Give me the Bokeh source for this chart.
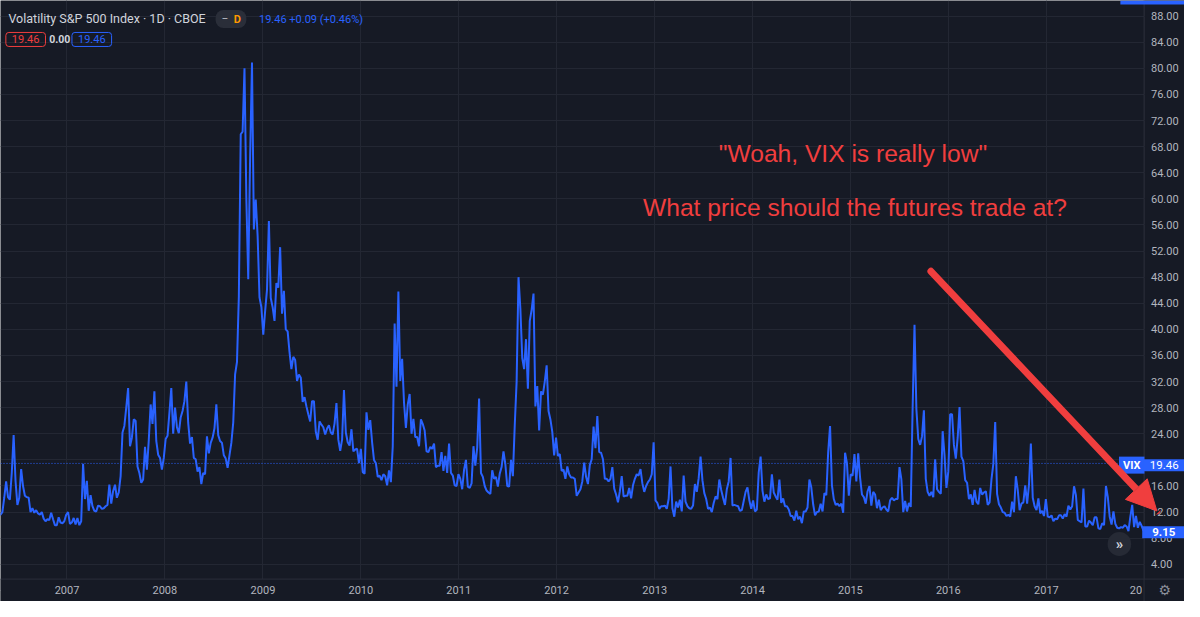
import pandas as pd
from bokeh.plotting import figure
from bokeh.models import (Range1d, FixedTicker, Grid, Label, Span, Arrow, NormalHead,
                          ColumnDataSource, BoxAnnotation)
from bokeh.core.properties import value
from bokeh.embed import file_html
from bokeh.resources import INLINE

# ---------------- data (weekly VIX closes) ----------------
vix_2006 = [11.2, 11.5, 11.6, 11.6, 12.0, 14.2, 16.7, 14.3, 13.9, 18.0, 23.8, 16.8, 13.1, 14.2, 18.6, 16.0,
            14.5, 14.3, 14.2, 12.0, 12.6, 11.9, 12.3, 11.8, 11.6, 12.0, 11.0, 10.6, 10.9, 10.8, 11.9, 10.9,
            10.0, 10.0, 11.2, 10.4, 10.3, 10.6, 11.6]
vix_2007 = [12.0, 10.2, 10.4, 11.1, 10.1, 11.1, 10.0, 10.6, 19.4, 14.0, 16.8, 12.2, 14.6, 12.9, 12.2, 12.1,
            13.0, 12.9, 12.5, 12.6, 12.9, 13.1, 16.2, 13.3, 15.2, 16.2, 14.2, 15.0, 17.5, 24.2, 25.2, 28.0,
            31.0, 22.1, 23.4, 26.2, 26.0, 19.0, 18.0, 16.5, 17.0, 22.0, 18.5, 23.0, 28.5, 25.5, 30.5, 22.9,
            20.8, 20.3, 18.5, 20.3]
vix_2008 = [23.2, 23.7, 27.2, 31.0, 24.0, 28.0, 25.0, 24.1, 26.5, 27.5, 29.0, 32.0, 25.7, 22.5, 23.5, 20.3,
            20.1, 18.2, 18.9, 16.3, 18.0, 17.8, 23.6, 21.0, 22.6, 23.4, 24.8, 28.5, 23.8, 22.9, 22.6, 20.7,
            20.2, 18.8, 20.7, 22.6, 25.7, 33.1, 35.0, 45.1, 69.9, 70.3, 80.0, 59.9, 47.7, 66.3, 80.9, 55.3,
            59.9, 54.3, 44.9, 43.4]
vix_2009 = [39.2, 42.8, 46.1, 56.6, 44.8, 43.4, 41.3, 47.1, 46.4, 52.6, 42.4, 45.9, 40.0, 39.7, 36.5, 33.9,
            35.8, 35.3, 32.1, 33.1, 32.6, 28.9, 29.6, 28.2, 27.0, 25.9, 29.0, 29.0, 24.3, 23.1, 25.9, 25.4,
            25.0, 23.9, 24.8, 25.3, 24.2, 23.9, 25.6, 28.7, 23.1, 21.4, 23.1, 30.7, 24.2, 22.7, 22.2, 24.7,
            21.3, 21.6, 21.7, 19.5]
vix_2010 = [21.7, 18.1, 17.9, 27.3, 24.6, 26.1, 22.7, 20.0, 19.5, 17.4, 17.6, 16.9, 17.8, 17.5, 16.1, 18.4,
            16.6, 22.1, 40.9, 31.2, 45.8, 32.1, 35.5, 28.8, 24.9, 28.5, 30.1, 24.0, 26.3, 23.5, 23.5, 22.1,
            26.2, 25.5, 24.5, 21.3, 21.2, 22.0, 21.7, 22.5, 18.9, 19.1, 19.1, 21.2, 18.3, 20.6, 18.0, 22.5,
            18.0, 17.6, 16.1, 16.0, 17.8]
vix_2011 = [17.1, 15.5, 18.5, 20.0, 15.9, 15.7, 16.4, 22.1, 19.1, 21.9, 29.4, 18.0, 17.4, 16.0, 15.3, 15.0,
            14.8, 18.4, 17.1, 17.4, 15.9, 17.9, 18.9, 21.3, 19.3, 16.0, 15.9, 20.0, 17.5, 25.3, 32.0, 48.0,
            43.1, 35.6, 33.9, 38.5, 30.9, 41.3, 43.0, 45.5, 28.2, 31.3, 24.5, 30.5, 30.0, 32.0, 34.5, 27.5,
            26.2, 24.3, 20.7, 23.4]
vix_2012 = [20.6, 20.9, 18.3, 18.5, 17.1, 19.0, 17.8, 17.3, 17.3, 17.1, 14.5, 15.0, 15.5, 16.7, 19.6, 17.4,
            16.3, 19.2, 20.1, 25.1, 21.8, 26.7, 21.2, 21.1, 20.1, 17.1, 17.1, 16.7, 17.1, 18.9, 15.6, 14.7,
            13.5, 15.2, 17.5, 14.4, 14.5, 14.5, 15.7, 14.1, 16.1, 17.1, 17.8, 17.6, 18.6, 16.4, 15.1, 16.0,
            16.6, 17.0, 17.8, 22.7]
vix_2013 = [13.8, 13.4, 12.5, 12.9, 12.9, 13.0, 12.5, 14.0, 19.0, 12.6, 11.3, 13.6, 12.7, 13.9, 12.1, 17.6,
            13.6, 12.9, 12.6, 12.5, 13.0, 16.3, 15.1, 17.2, 20.5, 16.9, 14.9, 14.0, 12.5, 12.7, 12.0, 13.4,
            14.4, 14.0, 17.0, 15.4, 14.2, 13.1, 15.5, 16.7, 20.3, 13.0, 13.1, 13.0, 12.9, 12.2, 12.3, 13.7,
            15.1, 15.8, 13.8, 12.5]
vix_2014 = [13.8, 12.1, 12.4, 18.1, 20.5, 15.3, 13.6, 14.7, 14.0, 14.1, 17.8, 15.0, 14.4, 13.9, 17.0, 13.4,
            14.1, 12.9, 12.9, 12.4, 11.4, 11.4, 10.7, 12.2, 10.9, 11.3, 10.3, 12.1, 12.1, 12.7, 17.0, 15.8,
            13.2, 11.5, 12.0, 12.1, 13.3, 12.1, 14.9, 14.6, 21.2, 25.2, 16.1, 14.0, 13.1, 13.3, 12.9, 13.3,
            11.9, 21.1, 19.5, 14.5]
vix_2015 = [17.8, 17.6, 20.9, 16.7, 21.0, 17.3, 14.7, 14.3, 13.3, 15.2, 16.0, 13.0, 15.1, 14.7, 12.6, 13.9,
            12.3, 12.7, 12.9, 12.4, 12.1, 13.8, 14.2, 13.8, 14.0, 14.0, 18.9, 17.0, 12.0, 13.7, 12.1, 13.4,
            12.8, 28.0, 40.7, 27.8, 23.2, 22.3, 23.6, 27.6, 17.1, 15.1, 14.5, 15.1, 14.3, 20.1, 15.5, 15.1,
            14.8, 24.4, 20.7, 15.7]
vix_2016 = [18.2, 27.0, 27.0, 22.3, 20.2, 23.4, 28.1, 20.5, 19.8, 16.9, 16.5, 14.0, 14.7, 13.1, 15.4, 13.6,
            13.2, 15.7, 14.7, 15.0, 15.2, 13.1, 13.5, 17.0, 19.4, 25.8, 14.8, 13.2, 12.7, 12.0, 11.9, 11.4,
            11.6, 11.3, 13.6, 12.0, 17.5, 15.4, 12.3, 13.3, 13.5, 16.1, 13.3, 16.2, 22.5, 14.2, 12.9, 12.3,
            14.1, 11.8, 12.2, 11.4, 14.0]
vix_2017 = [11.3, 11.2, 11.5, 10.6, 11.0, 10.9, 11.5, 11.5, 11.0, 11.7, 11.3, 13.0, 12.4, 12.9, 15.96, 14.6,
            10.8, 10.6, 10.4, 15.6, 9.8, 9.8, 10.7, 10.4, 10.0, 11.2, 11.2, 9.5, 9.4, 10.3, 10.0, 16.0,
            14.3, 11.3, 10.1, 12.1, 10.2, 9.6, 9.5, 9.7, 9.6, 10.0, 9.8, 9.1, 11.3, 13.1, 9.7, 11.4,
            9.6, 10.5, 9.9, 9.15]

year_labels = ["2007", "2008", "2009", "2010", "2011", "2012", "2013", "2014", "2015", "2016", "2017"]
price_ticks = [4, 8, 12, 16, 20, 24, 28, 32, 36, 40, 44, 48, 52, 56, 60, 64, 68, 72, 76, 80, 84, 88]
last_price = 19.46
change = 0.09
change_pct = 0.46
last_visible = 9.15

# ---------------- assemble series ----------------
series = [("2006-04-01", vix_2006), ("2007-01-01", vix_2007), ("2008-01-01", vix_2008),
          ("2009-01-01", vix_2009), ("2010-01-01", vix_2010), ("2011-01-01", vix_2011),
          ("2012-01-01", vix_2012), ("2013-01-01", vix_2013), ("2014-01-01", vix_2014),
          ("2015-01-01", vix_2015), ("2016-01-01", vix_2016), ("2017-01-01", vix_2017)]
dates, vals = [], []
for start, arr in series:
    dates.extend(pd.date_range(start, periods=len(arr), freq="W-FRI"))
    vals.extend(arr)
src = ColumnDataSource(dict(date=dates, vix=vals))

year_dates = [pd.Timestamp(f"{y}-01-01") for y in year_labels]
year_src = ColumnDataSource(dict(x=year_dates, label=year_labels))
shown = [t for t in price_ticks if t != 20]          # 20.00 sits under the last-price tag
price_src = ColumnDataSource(dict(y=shown, label=[f"{t:.2f}" for t in shown]))

# ---------------- styling ----------------
BG = "#161a25"
GRID = "#232733"
AXLINE = "#2a2e39"
AXC = "#b2b5be"
BLUE = "#2962ff"
RED = "#f03e3e"
FONT = "Roboto"

# whole canvas is the frame; price scale (x>1159) and time scale (y>594) are painted in it
W, H = 1184, 601
p = figure(width=W, height=H, x_axis_type="datetime",
           x_axis_location=None, y_axis_location=None,
           x_range=Range1d(pd.Timestamp("2006-04-28"), pd.Timestamp("2018-05-31")),
           y_range=Range1d(-1.7, 90.4), output_backend="svg", toolbar_location=None,
           min_border=0, background_fill_color=BG, border_fill_color=BG, outline_line_color=None)
p.extra_x_ranges = {"px": Range1d(0, 1200)}
p.extra_y_ranges = {"py": Range1d(617, 0)}

xt = FixedTicker(ticks=[d.timestamp() * 1000 for d in year_dates])
yt = FixedTicker(ticks=price_ticks)
p.add_layout(Grid(dimension=0, ticker=xt, grid_line_color=GRID))
p.add_layout(Grid(dimension=1, ticker=yt, grid_line_color=GRID))

# scale strips (cover grid lines) and their border lines
p.add_layout(BoxAnnotation(left=1159, right=1200, top=0, bottom=617, x_range_name="px", y_range_name="py",
                           fill_color=BG, fill_alpha=1, line_color=None, level="underlay"))
p.add_layout(BoxAnnotation(left=0, right=1200, top=594, bottom=617, x_range_name="px", y_range_name="py",
                           fill_color=BG, fill_alpha=1, line_color=None, level="underlay"))
p.add_layout(Span(location=1159, dimension="height", x_range_name="px", line_color=AXLINE, line_width=1))
p.add_layout(Span(location=594, dimension="width", y_range_name="py", line_color=AXLINE, line_width=1))

# price line + last price line
p.line("date", "vix", source=src, line_color=BLUE, line_width=2)
p.add_layout(Span(location=last_price, dimension="width", line_color=BLUE,
                  line_dash="1 2", line_width=1))

# scale labels
p.text(x=1166, y="y", text="label", source=price_src, x_range_name="px",
       text_font=value(FONT), text_font_size="11px", text_color=AXC,
       text_baseline="middle", text_align="left")
p.text(x="x", y=605, text="label", source=year_src, y_range_name="py",
       text_font=value(FONT), text_font_size="11px", text_color=AXC,
       text_baseline="middle", text_align="center")


def lab(x, y, text, **kw):
    base = dict(x=x, y=y, text=text, x_range_name="px", y_range_name="py",
                text_font=FONT, text_font_size="12px", text_color=AXC,
                text_baseline="middle", text_align="left")
    base.update(kw)
    p.add_layout(Label(**base))


# header
lab(8, 18, "Volatility S&P 500 Index · 1D · CBOE", text_color="#d1d4dc", text_font_size="12.5px")
lab(218, 19, "−    ", text_color="#b2b5be", text_font_size="12px", background_fill_color="#2a2e39",
    border_radius=8, padding=(6, 2))
lab(240, 19, "D", text_color="#ff9800", text_font_size="11px", text_font_style="bold", text_align="center")
lab(262, 19, f"{last_price:.2f}  +{change:.2f}  (+{change_pct:.2f}%)", text_color=BLUE, text_font_size="11px")
lab(25.5, 40, f"{last_price:.2f}", text_color=RED, text_font_size="11px", text_align="center",
    border_line_color=RED, border_radius=3, padding=(6, 3))
lab(60, 40, "0.00", text_color="#d1d4dc", text_font_size="10.5px", text_align="center",
    text_font_style="bold")
lab(92.5, 40, f"{last_price:.2f}", text_color=BLUE, text_font_size="11px", text_align="center",
    border_line_color=BLUE, border_radius=3, padding=(6, 3))

# annotation text + arrow
lab(864, 157, '"Woah, VIX is really low"', text_color=RED, text_font="Liberation Sans",
    text_font_size="24.6px", text_align="center")
lab(866, 212, "What price should the futures trade at?", text_color=RED, text_font="Liberation Sans",
    text_font_size="24.6px", text_align="center")

# price-scale tags
p.add_layout(BoxAnnotation(left=1135, right=1200, top=0, bottom=4, x_range_name="px", y_range_name="py",
                           fill_color=BLUE, fill_alpha=1, line_color=None))
lab(1146.5, 477, "VIX", text_color="white", text_font_size="11px", text_align="center",
    text_font_style="bold", background_fill_color=BLUE, padding=(4, 2))
lab(1179.5, 477, f"{last_price:.2f}", text_color="white", text_font_size="11.5px", text_align="center",
    background_fill_color=BLUE, padding=(6, 2))
lab(1179, 546, f"{last_visible:.2f}", text_color="white", text_font_size="11.5px", text_align="center",
    text_font_style="bold", background_fill_color=BLUE, padding=(10, 2))

p.add_layout(Arrow(end=NormalHead(size=30, fill_color=RED, line_color=RED, line_width=1),
                   x_start=943, y_start=278, x_end=1172, y_end=524,
                   x_range_name="px", y_range_name="py",
                   line_color=RED, line_width=7, line_cap="round"))

# chrome
lab(1134, 558, "»", text_color="#d1d4dc", text_font_size="15px", text_align="center",
    text_font_style="bold", background_fill_color="#262a35", border_radius=12, padding=(8, 3))
lab(1157, 605, "20", text_color=AXC, text_font_size="11px", text_align="right")
lab(1180, 605, "⚙", text_color="#8a8e99", text_font="DejaVu Sans", text_font_size="14px",
    text_align="center")

open("out.html", "w").write(file_html(p, INLINE))
